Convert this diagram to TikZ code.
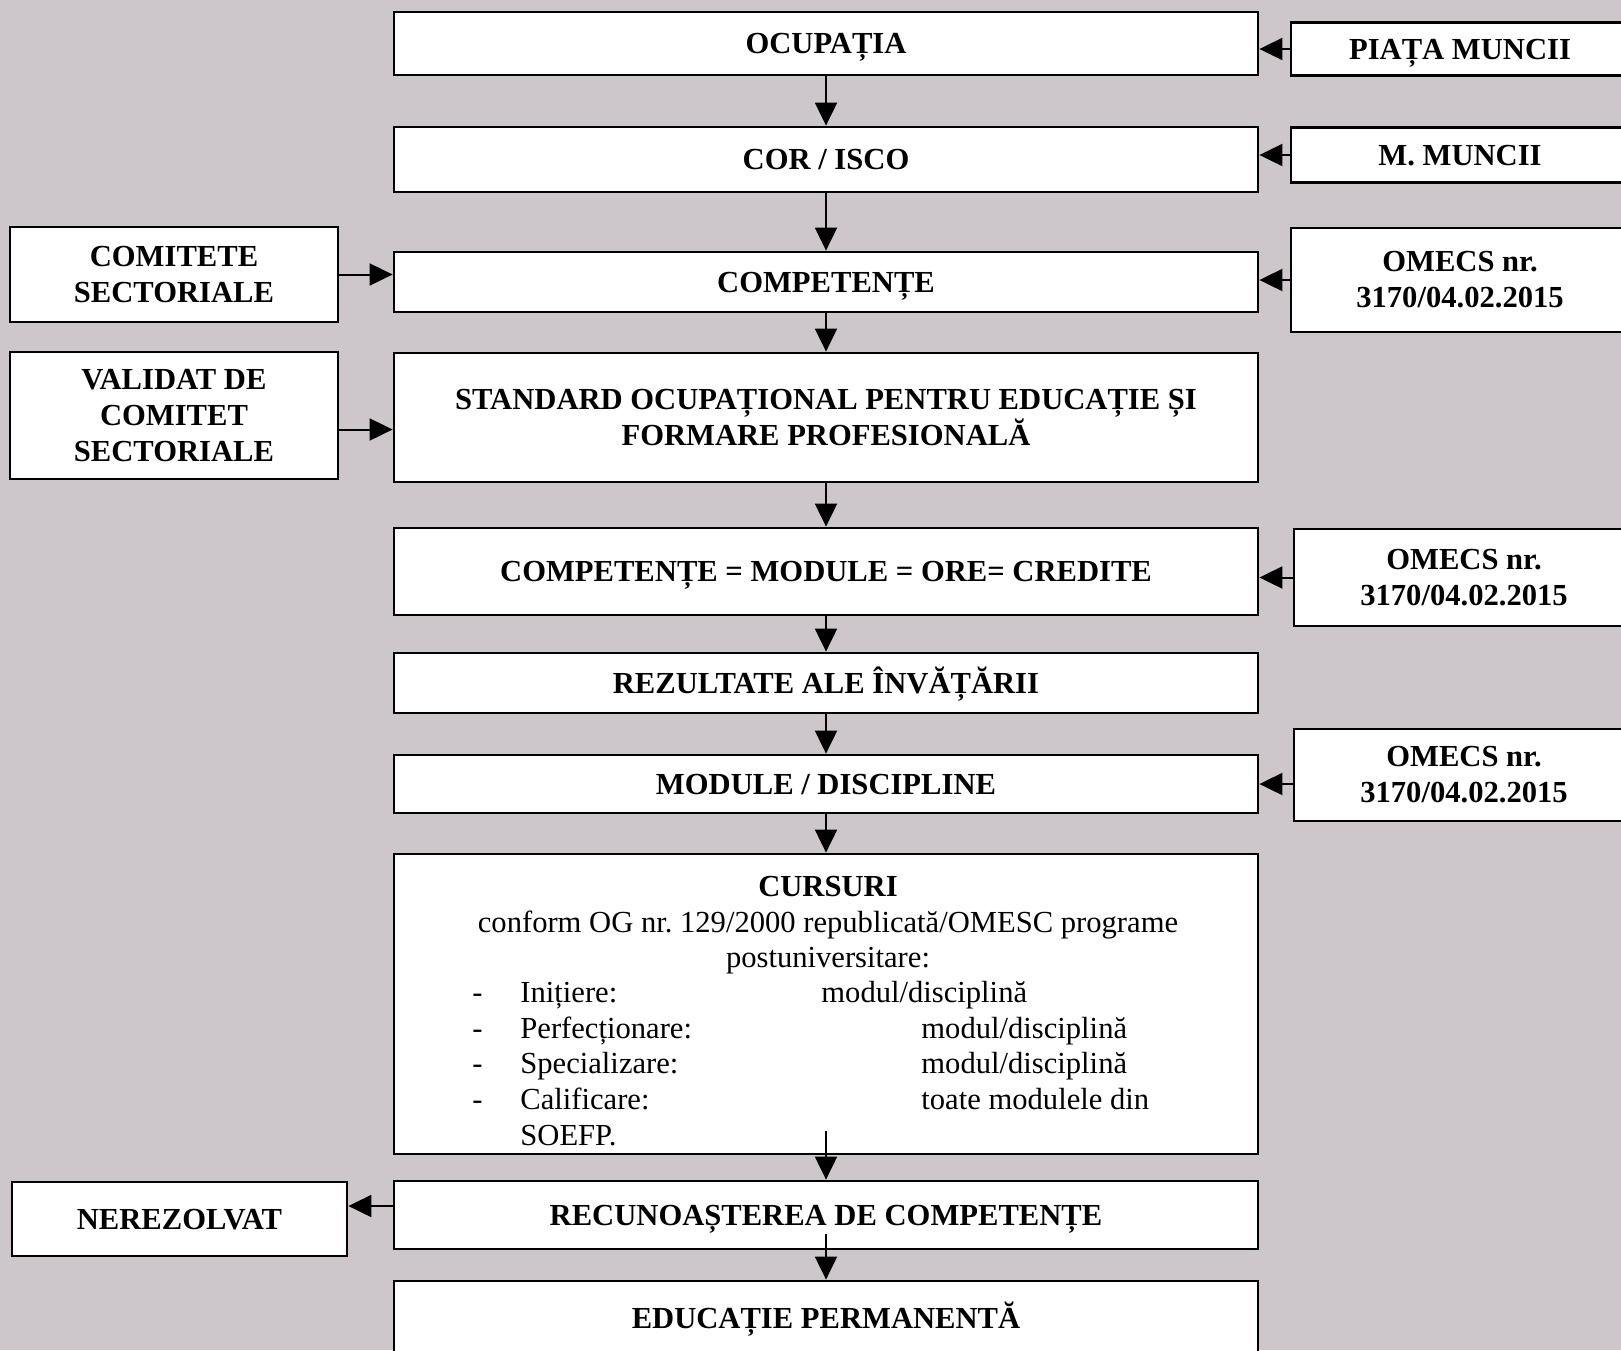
\documentclass[tikz,border=0pt]{standalone}
\usepackage{fontspec}
\setmainfont{Liberation Serif}
\usetikzlibrary{arrows.meta}
\definecolor{paper}{RGB}{205,199,204}
\frenchspacing
\begin{document}
\begin{tikzpicture}[x=0.5pt,y=-0.5pt,
    box/.style={draw=black, line width=1.4pt, fill=white, inner sep=0pt,
      align=center, font=\fontsize{15.3}{18}\selectfont\bfseries},
    oneline/.style={text height=10.1pt, text depth=0pt},
    mainbox/.style={box, minimum width=432pt},
    sidebox/.style={box, minimum width=169pt},
    txt/.style={inner sep=0pt, font=\fontsize{15.3}{18}\selectfont},
    arr/.style={-{Triangle[length=11.5pt,width=11pt]}, line width=1pt}]
  % Background
  \fill[paper] (0,0) rectangle (1621,1350);
  \useasboundingbox (0,0) rectangle (1621,1350);
  \clip (0,0) rectangle (1621,1350);
  % Main column
  \node[mainbox, oneline, minimum height=31.5pt] (ocup) at (826,43.5) {OCUPAȚIA};
  \node[mainbox, oneline, minimum height=32.5pt] (cor) at (826,159.5) {COR / ISCO};
  \node[mainbox, oneline, minimum height=30pt] (comp) at (826,282) {COMPETENȚE};
  \node[mainbox, minimum height=64.5pt] (standard) at (826,417.5)
    {STANDARD OCUPAȚIONAL PENTRU EDUCAȚIE ȘI\\FORMARE PROFESIONALĂ};
  \node[mainbox, oneline, minimum height=43.5pt] (compmod) at (826,571.5)
    {COMPETENȚE = MODULE = ORE= CREDITE};
  \node[mainbox, oneline, minimum height=30pt] (rezultate) at (826,683)
    {REZULTATE ALE ÎNVĂȚĂRII};
  \node[mainbox, oneline, minimum height=29pt] (module) at (826,784)
    {MODULE / DISCIPLINE};
  \node[mainbox, minimum height=150pt] (cursuri) at (826,1004) {};
  \node[mainbox, oneline, minimum height=34pt] (recun) at (826,1215)
    {RECUNOAȘTEREA DE COMPETENȚE};
  \node[mainbox, oneline, minimum height=37pt] (educ) at (826,1318)
    {EDUCAȚIE PERMANENTĂ};
  % Text of the courses box
  \node[txt, anchor=base, font=\fontsize{15.3}{18}\selectfont\bfseries]
    (cursTitle) at (828,896) {CURSURI};
  \node[txt, anchor=base] (cursConform) at (828,932)
    {conform OG nr. 129/2000 republicată/OMESC programe};
  \node[txt, anchor=base] (cursPost) at (828,967) {postuniversitare:};
  \node[txt, anchor=base west] (dashA) at (472,1002) {-};
  \node[txt, anchor=base west] (dashB) at (472,1038) {-};
  \node[txt, anchor=base west] (dashC) at (472,1073) {-};
  \node[txt, anchor=base west] (dashD) at (472,1109) {-};
  \node[txt, anchor=base west] (itemA) at (520,1002) {Inițiere:};
  \node[txt, anchor=base west] (itemB) at (520,1038) {Perfecționare:};
  \node[txt, anchor=base west] (itemC) at (520,1073) {Specializare:};
  \node[txt, anchor=base west] (itemD) at (520,1109) {Calificare:};
  \node[txt, anchor=base west] (itemE) at (520,1145) {SOEFP.};
  \node[txt, anchor=base west] (valA) at (821,1002) {modul/disciplină};
  \node[txt, anchor=base west] (valB) at (921,1038) {modul/disciplină};
  \node[txt, anchor=base west] (valC) at (921,1073) {modul/disciplină};
  \node[txt, anchor=base west] (valD) at (921,1109) {toate modulele din};
  % Right column
  \node[sidebox, oneline, minimum height=26.5pt] (piata) at (1460,49) {PIAȚA MUNCII};
  \node[sidebox, oneline, minimum height=27.5pt] (mmuncii) at (1460,155) {M. MUNCII};
  \node[sidebox, minimum height=52pt] (omecsA) at (1460,280)
    {OMECS nr.\\3170/04.02.2015};
  \node[sidebox, minimum width=170pt, minimum height=48.5pt] (omecsB)
    at (1464,577.5) {OMECS nr.\\3170/04.02.2015};
  \node[sidebox, minimum width=170pt, minimum height=46pt] (omecsC)
    at (1464,775) {OMECS nr.\\3170/04.02.2015};
  % Left column
  \node[box, minimum width=164pt, minimum height=47.5pt] (comitete)
    at (174,274.5) {COMITETE\\SECTORIALE};
  \node[box, minimum width=164pt, minimum height=63.5pt] (validat)
    at (174,415.5) {VALIDAT DE\\COMITET\\SECTORIALE};
  \node[box, oneline, minimum width=167.5pt, minimum height=37pt] (nerez)
    at (179.5,1219) {NEREZOLVAT};
  % Arrows down the main column
  \draw[arr] (ocup.south) -- (cor.north);
  \draw[arr] (cor.south) -- (comp.north);
  \draw[arr] (comp.south) -- (standard.north);
  \draw[arr] (standard.south) -- (compmod.north);
  \draw[arr] (compmod.south) -- (rezultate.north);
  \draw[arr] (rezultate.south) -- (module.north);
  \draw[arr] (module.south) -- (cursuri.north);
  \draw[arr] ([yshift=12pt]cursuri.south) -- (recun.north);
  \draw[arr] ([yshift=8pt]recun.south) -- (educ.north);
  % Side arrows
  \draw[arr] (piata.west) -- (piata.west -| ocup.east);
  \draw[arr] (mmuncii.west) -- (mmuncii.west -| cor.east);
  \draw[arr] (omecsA.west) -- (omecsA.west -| comp.east);
  \draw[arr] (comitete.east) -- (comitete.east -| comp.west);
  \draw[arr] ([yshift=-7pt]validat.east) -- ([yshift=-7pt]validat.east -| standard.west);
  \draw[arr] (omecsB.west) -- (omecsB.west -| compmod.east);
  \draw[arr] (omecsC.west |- module.east) -- (module.east);
  \draw[arr] ([yshift=4.5pt]recun.west) -- ([yshift=4.5pt]recun.west -| nerez.east);
\end{tikzpicture}
\end{document}
